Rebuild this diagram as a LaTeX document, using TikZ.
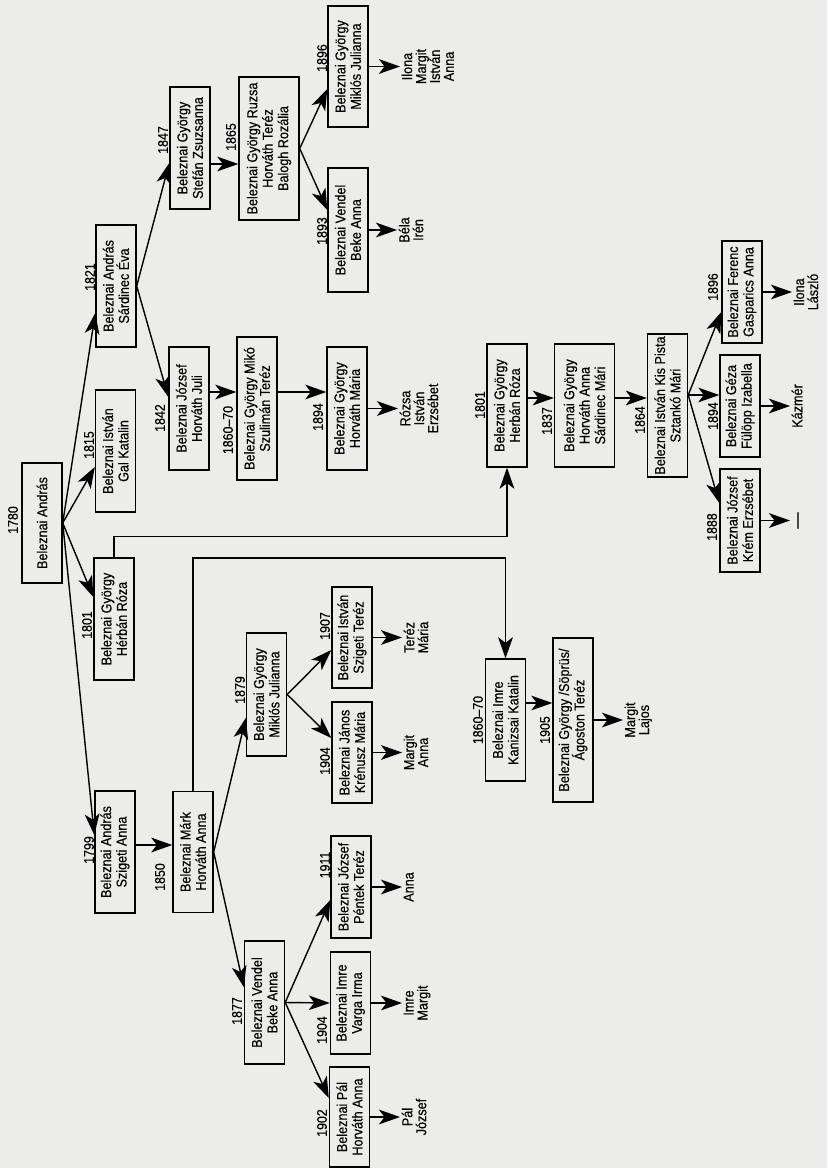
\documentclass[tikz,border=0pt]{standalone}
\usepackage{fontspec}
\setmainfont{Liberation Sans}[FakeStretch=0.88, FakeBold=0.4]
\usetikzlibrary{arrows.meta,calc}

\definecolor{paper}{RGB}{236,236,234}

\begin{document}
\begin{tikzpicture}[x=0.025cm, y=-0.025cm,
	person/.style={draw=black, line width=1pt, rotate=90, align=center,
		font=\fontsize{10.2}{11}\selectfont, inner sep=1.5pt,
		minimum width=#1*0.025cm, minimum height=1cm},
	person/.default=122,
	wide/.style={minimum height=1.5cm},
	year/.style={rotate=90, font=\fontsize{10}{11}\selectfont, inner sep=0pt},
	kids/.style={rotate=90, anchor=north, align=center,
		font=\fontsize{10.2}{9.9}\selectfont, inner sep=1pt},
	arr/.style={line width=1pt, -{Stealth[length=15pt,width=10.5pt,inset=4pt]}}]

	\useasboundingbox[fill=paper] (0,0) rectangle (827,1168);

	\node[person=120] (root) at (42, 523) {Beleznai András};

	\node[person] (b1821) at (116, 286) {Beleznai András\\Sárdinec Éva};
	\node[person] (b1815) at (115.5, 451) {Beleznai István\\Gal Katalin};
	\node[person] (b1801) at (114, 619) {Beleznai György\\Hérbán Róza};
	\node[person] (b1799) at (115, 852) {Beleznai András\\Szigeti Anna};

	\node[person] (b1847) at (190, 148) {Beleznai György\\Stefán Zsuzsanna};
	\node[person=123] (b1842) at (189, 408.5) {Beleznai József\\Horváth Juli};
	\node[person=121] (bmark) at (193, 852) {Beleznai Márk\\Horváth Anna};

	\node[person=143, wide] (b1865) at (269, 148.5) {Beleznai György Ruzsa\\Horváth Teréz\\Balogh Rozália};
	\node[person=143] (bmiko) at (257, 408.5) {Beleznai György Mikó\\Szulimán Teréz};
	\node[person=123] (b1879) at (266.5, 694.5) {Beleznai György\\Miklós Julianna};
	\node[person=123] (b1877) at (264.5, 1002.5) {Beleznai Vendel\\Beke Anna};

	\node[person=121] (b1896) at (348, 66.5) {Beleznai György\\Miklós Julianna};
	\node[person=124] (b1893) at (348, 230) {Beleznai Vendel\\Beke Anna};
	\node[person=123] (b1894) at (347, 408.5) {Beleznai György\\Horváth Mária};
	\node[person=101] (b1907) at (352, 637.5) {Beleznai István\\Szigeti Teréz};
	\node[person=101] (b1904) at (352, 752.5) {Beleznai János\\Krénusz Mária};
	\node[person=102] (b1911) at (351, 887) {Beleznai József\\Péntek Teréz};
	\node[person=102] (b1904b) at (350.5, 1003) {Beleznai Imre\\Varga Irma};
	\node[person=100] (b1902) at (349.5, 1117) {Beleznai Pál\\Horváth Anna};

	\node[person] (bimre) at (505.5, 720) {Beleznai Imre\\Kanizsai Katalin};
	\node[person=164] (b1905) at (573, 720) {Beleznai György /Söprüs/\\Ágoston Teréz};
	\node[person=123] (b1801b) at (507, 405.5) {Beleznai György\\Herbán Róza};
	\node[person=123, wide] (b1837) at (584.5, 405.5) {Beleznai György\\Horváth Anna\\Sárdinec Mári};
	\node[person=143] (b1864) at (667.5, 405.5) {Beleznai István Kis Pista\\Sztankó Mári};
	\node[person=102] (b1896b) at (742, 292) {Beleznai Ferenc\\Gasparics Anna};
	\node[person=102] (b1894b) at (740, 406) {Beleznai Géza\\Fülöpp Izabella};
	\node[person=103] (b1888) at (740, 520.5) {Beleznai József\\Krém Erzsébet};

	\node[year] (y1780) at (13, 520) {1780};
	\node[year] (y1821) at (90, 277) {1821};
	\node[year] (y1815) at (89, 445) {1815};
	\node[year] (y1801) at (87, 625) {1801};
	\node[year] (y1799) at (89, 850) {1799};
	\node[year] (y1847) at (163, 140) {1847};
	\node[year] (y1842) at (160, 418) {1842};
	\node[year] (y1850) at (160, 877) {1850};
	\node[year] (y1865) at (231, 137) {1865};
	\node[year] (y1860a) at (228, 430) {1860–70};
	\node[year] (y1879) at (240, 690) {1879};
	\node[year] (y1877) at (237, 1011) {1877};
	\node[year] (y1896) at (322, 58) {1896};
	\node[year] (y1893) at (322, 231) {1893};
	\node[year] (y1894) at (318, 417) {1894};
	\node[year] (y1907) at (325, 626) {1907};
	\node[year] (y1904) at (325, 761) {1904};
	\node[year] (y1911) at (325, 865) {1911};
	\node[year] (y1904b) at (322, 1030) {1904};
	\node[year] (y1902) at (322, 1123) {1902};
	\node[year] (y1860b) at (478, 720) {1860–70};
	\node[year] (y1801b) at (480, 405) {1801};
	\node[year] (y1905) at (545, 730) {1905};
	\node[year] (y1837) at (547, 421) {1837};
	\node[year] (y1864) at (640, 420) {1864};
	\node[year] (y1896b) at (713, 287) {1896};
	\node[year] (y1894b) at (713, 416) {1894};
	\node[year] (y1888) at (712, 527) {1888};

	\node[kids] (k1896) at (400, 66.5) {Ilona\\Margit\\István\\Anna};
	\node[kids] (k1893) at (397, 230) {Béla\\Irén};
	\node[kids] (k1894) at (398, 408.5) {Rózsa\\István\\Erzsébet};
	\node[kids] (k1907) at (402, 637.5) {Teréz\\Mária};
	\node[kids] (k1904) at (402, 752.5) {Margit\\Anna};
	\node[kids] (k1911) at (402, 887) {Anna};
	\node[kids] (k1904b) at (402, 1003) {Imre\\Margit};
	\node[kids] (k1902) at (400, 1117) {Pál\\József};
	\node[kids] (k1905) at (623, 720) {Margit\\Lajos};
	\node[kids] (k1896b) at (792, 292) {Ilona\\László};
	\node[kids] (k1894b) at (790, 406) {Kázmér};
	\node[kids, inner ysep=5pt, font=\fontsize{13}{13}\selectfont] (k1888) at (790, 520.5) {—};

	\draw[arr] (root.south) -- (b1821.north |- 0,313);
	\draw[arr] (root.south) -- (b1815.north |- 0,467);
	\draw[arr] (root.south) -- (b1801.north |- 0,597);
	\draw[arr] (root.south) -- (b1799.north |- 0,835);

	\draw[arr] (b1821.south) -- (b1847.north |- 0,163);
	\draw[arr] (b1821.south) -- (b1842.north |- 0,397);
	\draw[arr] (b1847.south |- 0,164) -- (b1865.north |- 0,164);
	\draw[arr] (b1865.south) -- (b1896.north |- 0,89);
	\draw[arr] (b1865.south) -- (b1893.north |- 0,210);
	\draw[arr] (b1842.south |- 0,392) -- (bmiko.north |- 0,392);
	\draw[arr] (bmiko.south |- 0,392) -- (b1894.north |- 0,392);

	\draw[arr] (b1799.south |- 0,845) -- (bmark.north |- 0,845);
	\draw[arr] (bmark.south) -- (b1879.north |- 0,718);
	\draw[arr] (bmark.south) -- (b1877.north |- 0,987);
	\draw[arr] (b1879.south) -- (b1907.north |- 0,650);
	\draw[arr] (b1879.south) -- (b1904.north |- 0,738);
	\draw[arr] (b1877.south) -- (b1911.north |- 0,900);
	\draw[arr] (b1877.south) -- (b1904b.north);
	\draw[arr] (b1877.south) -- (b1902.north |- 0,1098);

	\draw[arr] (b1801.east) -- ++(0,-21) -| (b1801b.west);
	\draw[arr] (bmark.east) -- ++(0,-233) -| (bimre.east);

	\draw[arr] (bimre.south |- 0,703) -- (b1905.north |- 0,703);
	\draw[arr] (b1801b.south |- 0,398) -- (b1837.north |- 0,398);
	\draw[arr] (b1837.south |- 0,398) -- (b1864.north |- 0,398);
	\coordinate (f1864) at (b1864.south |- 0,395);
	\draw[arr] (f1864) -- (b1896b.north |- 0,312);
	\draw[arr] (f1864) -- (b1894b.north |- 0,395);
	\draw[arr] (f1864) -- (b1888.north |- 0,503);

	\draw[arr] (b1896.south) -- (k1896.north);
	\draw[arr] (b1893.south) -- (k1893.north);
	\draw[arr] (b1894.south) -- (k1894.north);
	\draw[arr] (b1907.south) -- (k1907.north);
	\draw[arr] (b1904.south) -- (k1904.north);
	\draw[arr] (b1911.south) -- (k1911.north);
	\draw[arr] (b1904b.south) -- (k1904b.north);
	\draw[arr] (b1902.south) -- (k1902.north);
	\draw[arr] (b1905.south) -- (k1905.north);
	\draw[arr] (b1896b.south) -- (k1896b.north);
	\draw[arr] (b1894b.south) -- (k1894b.north);
	\draw[arr] (b1888.south) -- (k1888.north);
\end{tikzpicture}
\end{document}
